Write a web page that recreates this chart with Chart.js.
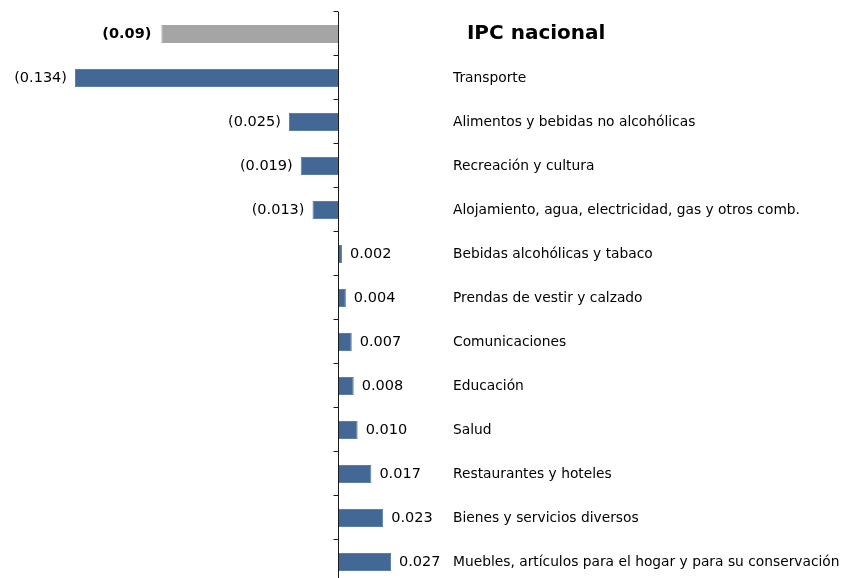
<!DOCTYPE html>
<html>
<head>
<meta charset="utf-8">
<script src="https://cdn.jsdelivr.net/npm/chart.js@4"></script>
<style>
html,body{margin:0;padding:0;background:#fff;overflow:hidden;}
#wrap{width:842px;height:578px;overflow:hidden;position:relative;}
#c{display:block;}
</style>
</head>
<body>
<div id="wrap"><canvas id="c" width="842" height="584"></canvas></div>
<script>
const categories = [
  "  IPC nacional",
  "Transporte",
  "Alimentos y bebidas no alcohólicas",
  "Recreación y cultura",
  "Alojamiento, agua, electricidad, gas y otros comb.",
  "Bebidas alcohólicas y tabaco",
  "Prendas de vestir y calzado",
  "Comunicaciones",
  "Educación",
  "Salud",
  "Restaurantes y hoteles",
  "Bienes y servicios diversos",
  "Muebles, artículos para el hogar y para su conservación"
];
const values = [-0.09, -0.134, -0.025, -0.019, -0.013, 0.002, 0.004, 0.007, 0.008, 0.010, 0.017, 0.023, 0.027];
const valueLabels = ["(0.09)", "(0.134)", "(0.025)", "(0.019)", "(0.013)", "0.002", "0.004", "0.007", "0.008", "0.010", "0.017", "0.023", "0.027"];

const FONT = "'DejaVu Sans', Verdana, sans-serif";

const axisPlugin = {
  id: 'axisPlugin',
  afterDatasetsDraw(chart) {
    const ctx = chart.ctx;
    const xs = chart.scales.x;
    const x0 = Math.round(xs.getPixelForValue(0)) + 0.5;
    const top = chart.chartArea.top, bottom = chart.chartArea.bottom;
    ctx.save();
    ctx.strokeStyle = '#1a1a1a';
    ctx.lineWidth = 1;
    ctx.beginPath();
    ctx.moveTo(x0, top);
    ctx.lineTo(x0, bottom);
    const n = categories.length;
    const step = (bottom - top) / n;
    for (let i = 0; i <= n; i++) {
      const y = Math.round(top + i * step) - 0.5;
      ctx.moveTo(x0 - 5, y);
      ctx.lineTo(x0, y);
    }
    ctx.stroke();
    const meta = chart.getDatasetMeta(0);
    ctx.fillStyle = '#000';
    ctx.textBaseline = 'middle';
    meta.data.forEach((bar, i) => {
      const v = values[i];
      ctx.font = (i === 0 ? 'bold ' : '') + '14.5px ' + FONT;
      if (v < 0) {
        ctx.textAlign = 'right';
        ctx.fillText(valueLabels[i], bar.x - (i === 0 ? 10 : 8), bar.y);
      } else {
        ctx.textAlign = 'left';
        ctx.fillText(valueLabels[i], bar.x + 8, bar.y);
      }
    });
    ctx.restore();
  }
};

new Chart(document.getElementById('c'), {
  type: 'bar',
  data: {
    labels: categories,
    datasets: [{
      data: values,
      backgroundColor: values.map((v, i) => i === 0 ? '#a5a5a5' : '#436896'),
      borderColor: values.map((v, i) => i === 0 ? '#a5a5a5' : '#5b7fab'),
      borderWidth: 1,
      barPercentage: 0.41,
      categoryPercentage: 1.0
    }]
  },
  options: {
    indexAxis: 'y',
    responsive: false,
    animation: false,
    layout: { padding: { top: 12, left: 0, right: 0, bottom: 0 } },
    plugins: { legend: { display: false }, tooltip: { enabled: false } },
    scales: {
      x: {
        display: false,
        min: -0.1722,
        max: 0.0545
      },
      y: {
        position: 'right',
        grid: { display: false, drawTicks: false },
        border: { display: false },
        afterFit(scale) {
          scale.width = 397;
          scale.paddingTop = 0;
          scale.paddingBottom = 0;
        },
        ticks: {
          padding: 8,
          color: '#000',
          autoSkip: false,
          font: (ctx) => ctx.index === 0
            ? { family: FONT, size: 20, weight: 'bold' }
            : { family: FONT, size: 13.8 }
        }
      }
    }
  },
  plugins: [axisPlugin]
});
</script>
</body>
</html>
